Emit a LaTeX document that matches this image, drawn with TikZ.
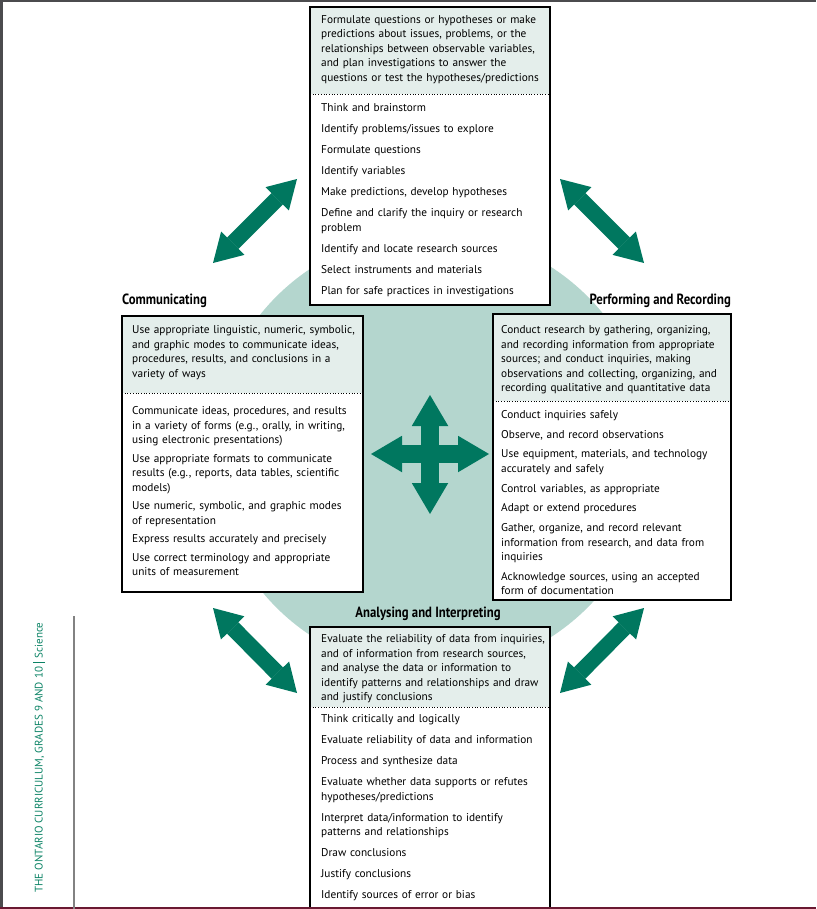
\documentclass[tikz,border=0pt]{standalone}
\usepackage{fontspec}
\setmainfont{PT Sans}
\newfontfamily\headfont[FakeStretch=0.86]{PT Sans}
\usetikzlibrary{arrows.meta}

\definecolor{arrowgreen}{RGB}{0,119,95}
\definecolor{disc}{RGB}{180,214,206}
\definecolor{headgrey}{RGB}{228,238,235}
\definecolor{sidegreen}{RGB}{10,130,100}
\definecolor{edgegrey}{RGB}{75,75,78}
\definecolor{rulegrey}{RGB}{130,130,130}
\definecolor{bottomred}{RGB}{105,25,50}

\tikzset{
  frameline/.style={draw=black, line width=1.2pt},
  sepline/.style={draw=black, dotted, line width=0.7pt},
  hdtext/.style={anchor=base west, inner sep=0pt, text width=236pt, align=left,
    font=\fontsize{11.3}{14.5}\selectfont},
  itemtext/.style={hdtext},
  heading/.style={inner sep=0pt, font=\headfont\bfseries\fontsize{14.8}{16}\selectfont},
  dblarrow/.style={arrowgreen, line width=16pt,
    >={Triangle[length=28pt,width=33pt,line width=0pt]}, <->},
  crossarrow/.style={arrowgreen, line width=18.5pt,
    >={Triangle[length=31pt,width=36.5pt,line width=0pt]}, <->},
}

\begin{document}
\begin{tikzpicture}[x=1pt,y=-1pt]
  \useasboundingbox (0,0) rectangle (816,909);

  % page edges
  \fill[edgegrey] (0,0) rectangle (816,2.5);
  \fill[edgegrey] (0,0) rectangle (3,909);
  \fill[bottomred] (0,906.5) rectangle (816,909);
  \draw[rulegrey, line width=1.2pt] (74,616) -- (74,909);
  \node[rotate=90, inner sep=0pt, text=sidegreen, font=\fontsize{11}{12}\selectfont] (series) at (39,757.5)
    {THE ONTARIO CURRICULUM, GRADES 9 AND 10\hspace{4pt}\rule[-2.5pt]{0.9pt}{12pt}\hspace{4pt}Science};

  % disc behind the boxes
  \fill[disc] (432,452) circle[radius=220pt];

  % initiating and planning
  \fill[headgrey] (310,7) rectangle (550,94);
  \fill[white] (310,94) rectangle (550,305);
  \draw[sepline] (310,94) -- (550,94);
  \draw[frameline] (310,7) rectangle (550,305);
  \node[hdtext] (planhd) at (321,23.5) {Formulate questions or hypotheses or make\\
    predictions about issues, problems, or the\\
    relationships between observable variables,\\
    and plan investigations to answer the\\
    questions or test the hypotheses/predictions};
  \node[itemtext] (planitems) at (321,111.5) {Think and brainstorm\\[6.6pt]
    Identify problems/issues to explore\\[6.6pt]
    Formulate questions\\[6.6pt]
    Identify variables\\[6.6pt]
    Make predictions, develop hypotheses\\[6.6pt]
    Define and clarify the inquiry or research\\problem\\[6.6pt]
    Identify and locate research sources\\[6.6pt]
    Select instruments and materials\\[6.6pt]
    Plan for safe practices in investigations};

  % communicating
  \node[heading, anchor=base west] (commtitle) at (122,304) {Communicating};
  \fill[headgrey] (122,316) rectangle (363,393);
  \fill[white] (122,393) rectangle (363,592);
  \draw[sepline] (122,393) -- (363,393);
  \draw[frameline] (122,316) rectangle (363,592);
  \node[hdtext] (commhd) at (132,333.5) {Use appropriate linguistic, numeric, symbolic,\\
    and graphic modes to communicate ideas,\\
    procedures, results, and conclusions in a\\
    variety of ways};
  \node[itemtext] (commitems) at (132,414.5) {Communicate ideas, procedures, and results\\
    in a variety of forms (e.g., orally, in writing,\\
    using electronic presentations)\\[4pt]
    Use appropriate formats to communicate\\
    results (e.g., reports, data tables, scientific\\
    models)\\[4pt]
    Use numeric, symbolic, and graphic modes\\
    of representation\\[4pt]
    Express results accurately and precisely\\[4pt]
    Use correct terminology and appropriate\\
    units of measurement};

  % performing and recording
  \node[heading, anchor=base east] (perftitle) at (731,304.5) {Performing and Recording};
  \fill[headgrey] (493,314) rectangle (731,401);
  \fill[white] (493,401) rectangle (731,600);
  \draw[sepline] (493,401) -- (731,401);
  \draw[frameline] (493,314) rectangle (731,600);
  \node[hdtext] (perfhd) at (501,333.5) {Conduct research by gathering, organizing,\\
    and recording information from appropriate\\
    sources; and conduct inquiries, making\\
    observations and collecting, organizing, and\\
    recording qualitative and quantitative data};
  \node[itemtext] (perfitems) at (501,418.5) {Conduct inquiries safely\\[5.2pt]
    Observe, and record observations\\[5.2pt]
    Use equipment, materials, and technology\\
    accurately and safely\\[5.2pt]
    Control variables, as appropriate\\[5.2pt]
    Adapt or extend procedures\\[5.2pt]
    Gather, organize, and record relevant\\
    information from research, and data from\\
    inquiries\\[5.2pt]
    Acknowledge sources, using an accepted\\
    form of documentation};

  % analysing and interpreting
  \node[heading, anchor=base] (analtitle) at (428,617.5) {Analysing and Interpreting};
  \fill[headgrey] (310,627) rectangle (550,707);
  \fill[white] (310,707) rectangle (550,906.5);
  \draw[sepline] (310,707) -- (550,707);
  \draw[frameline] (310,906.5) -- (310,627) -- (550,627) -- (550,906.5);
  \node[hdtext] (analhd) at (321,642.5) {Evaluate the reliability of data from inquiries,\\
    and of information from research sources,\\
    and analyse the data or information to\\
    identify patterns and relationships and draw\\
    and justify conclusions};
  \node[itemtext] (analitems) at (321,722.5) {Think critically and logically\\[6.5pt]
    Evaluate reliability of data and information\\[6.5pt]
    Process and synthesize data\\[6.5pt]
    Evaluate whether data supports or refutes\\
    hypotheses/predictions\\[6.5pt]
    Interpret data/information to identify\\
    patterns and relationships\\[6.5pt]
    Draw conclusions\\[6.5pt]
    Justify conclusions\\[6.5pt]
    Identify sources of error or bias};

  % arrows between the stages
  \coordinate (tlA) at (213,263);
  \coordinate (tlB) at (297,179);
  \coordinate (trA) at (560,179);
  \coordinate (trB) at (644,263);
  \coordinate (blA) at (213,608);
  \coordinate (blB) at (297,693);
  \coordinate (brA) at (644,608);
  \coordinate (brB) at (560,693);
  \path[dblarrow]
  (tlA) edge (tlB)
  (trA) edge (trB)
  (blA) edge (blB)
  (brA) edge (brB);

  % four-way arrow in the middle
  \coordinate (crossN) at (430,395);
  \coordinate (crossS) at (430,514);
  \coordinate (crossW) at (371,454);
  \coordinate (crossE) at (489,454);
  \path[crossarrow]
  (crossN) edge (crossS)
  (crossW) edge (crossE);
\end{tikzpicture}
\end{document}
